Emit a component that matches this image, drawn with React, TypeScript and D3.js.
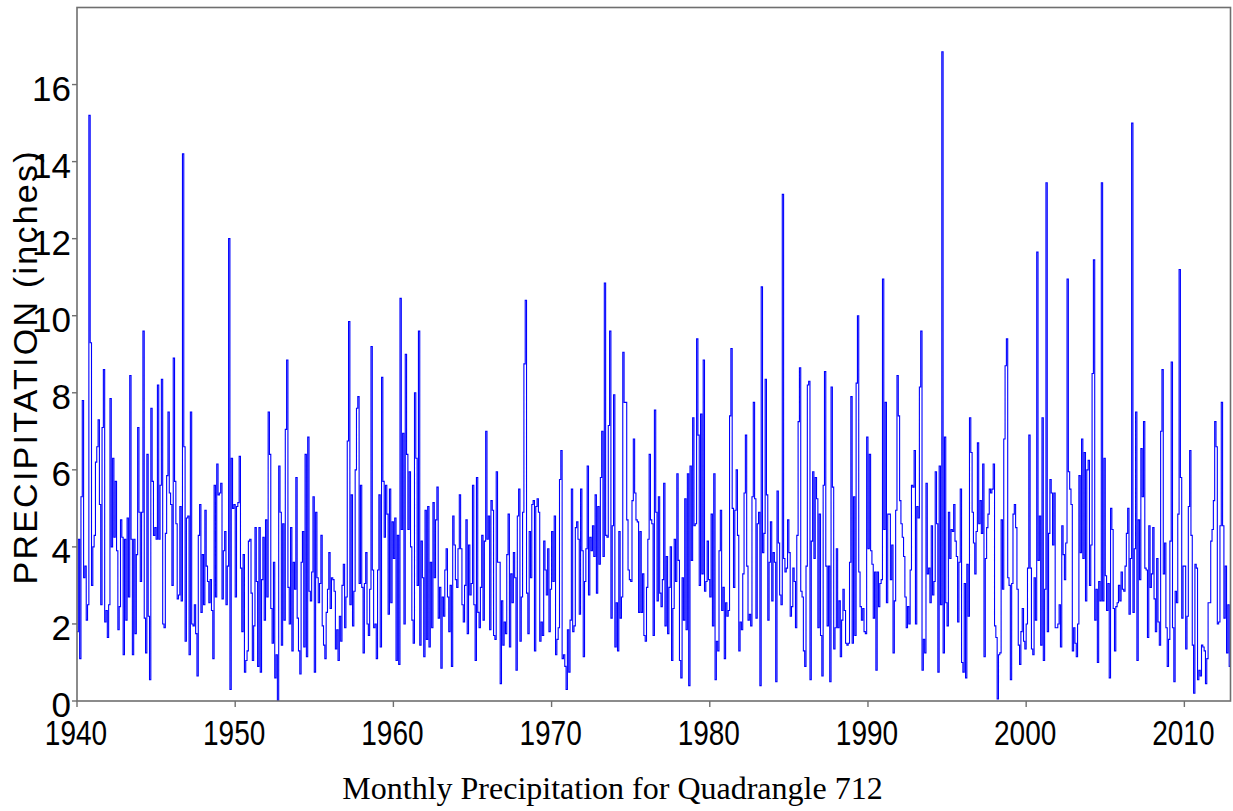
import React from "react";
import * as d3 from "d3";

// Monthly precipitation (inches), one row per year, Jan..Dec
const precip1940s: number[][] = [
  [1.8, 4.2, 1.1, 5.3, 7.8, 3.2, 3.5, 2.1, 2.5, 15.2, 9.3, 3.0],
  [4.0, 4.3, 6.2, 6.6, 7.3, 5.1, 2.5, 7.1, 8.6, 2.05, 2.35, 1.65],
  [2.5, 7.85, 4.0, 6.3, 4.25, 5.7, 3.9, 1.85, 2.45, 4.7, 4.25, 1.2],
  [4.2, 2.1, 4.75, 2.7, 8.45, 4.2, 1.2, 4.2, 1.75, 3.8, 7.1, 4.9],
  [3.1, 4.9, 9.6, 2.15, 1.25, 6.4, 2.2, 0.55, 7.6, 5.7, 4.3, 4.5],
  [4.2, 8.2, 4.2, 5.6, 8.35, 2.0, 1.9, 4.35, 5.85, 7.5, 5.4, 5.1],
  [3.0, 8.9, 5.7, 4.6, 2.65, 2.75, 5.05, 2.6, 14.2, 6.6, 1.55, 4.75],
  [4.8, 1.2, 7.5, 2.0, 1.95, 2.5, 1.75, 0.65, 4.3, 5.1, 2.3, 3.8],
  [2.5, 4.95, 3.5, 3.1, 2.55, 3.15, 2.35, 1.1, 5.6, 2.7, 6.15, 5.35],
  [5.4, 5.65, 2.65, 3.9, 4.4, 2.5, 3.5, 12.0, 0.3, 6.3, 5.0, 5.1],
];
const precip1950s: number[][] = [
  [2.7, 5.05, 5.15, 6.35, 3.45, 1.8, 3.8, 0.75, 1.05, 1.3, 4.15, 4.2],
  [2.8, 1.05, 1.95, 4.5, 3.1, 0.9, 4.5, 0.75, 3.15, 4.25, 2.1, 4.7],
  [2.7, 7.5, 6.4, 2.4, 1.5, 3.6, 0.6, 1.2, 0.0, 6.1, 4.9, 1.45],
  [4.6, 2.1, 7.05, 8.85, 2.95, 2.0, 4.5, 1.3, 3.6, 2.9, 5.8, 2.15],
  [1.3, 0.7, 3.6, 4.4, 1.4, 6.4, 1.15, 6.85, 2.85, 2.6, 3.35, 5.3],
  [0.75, 4.9, 3.2, 2.55, 3.05, 4.3, 1.95, 1.45, 1.1, 2.3, 2.9, 3.85],
  [2.4, 3.2, 3.15, 2.85, 1.35, 1.85, 1.05, 2.2, 1.55, 3.0, 3.55, 1.9],
  [2.7, 6.75, 9.85, 2.5, 5.35, 1.95, 2.85, 6.0, 7.6, 7.9, 3.05, 5.6],
  [2.95, 1.25, 3.05, 3.85, 2.0, 1.7, 2.9, 9.2, 3.4, 1.9, 2.0, 1.1],
  [3.4, 5.35, 1.4, 8.4, 5.7, 4.25, 5.6, 4.85, 2.25, 5.5, 2.55, 4.65],
];
const precip1960s: number[][] = [
  [3.7, 4.75, 1.05, 4.3, 0.95, 10.45, 4.45, 6.95, 2.0, 9.0, 6.4, 4.45],
  [5.95, 4.0, 2.1, 1.5, 8.0, 6.3, 3.0, 9.6, 1.45, 4.15, 3.2, 1.15],
  [4.95, 1.6, 5.05, 1.4, 3.6, 1.9, 5.15, 3.2, 4.7, 5.55, 2.15, 2.95],
  [0.85, 2.7, 2.2, 3.4, 3.95, 2.7, 1.8, 3.0, 0.9, 4.8, 4.05, 3.15],
  [2.95, 3.95, 5.35, 3.95, 2.5, 2.05, 3.0, 4.7, 1.75, 4.05, 2.75, 3.05],
  [5.6, 2.5, 1.05, 5.8, 2.3, 1.9, 2.95, 4.3, 2.1, 4.15, 7.0, 4.2],
  [4.8, 1.85, 5.2, 4.95, 1.7, 1.6, 5.95, 3.6, 3.6, 0.45, 2.6, 1.45],
  [2.05, 1.75, 3.8, 4.85, 1.4, 3.3, 2.55, 3.85, 3.2, 0.8, 4.8, 5.5],
  [1.55, 2.7, 4.9, 8.75, 10.4, 2.8, 1.75, 4.4, 3.2, 5.1, 5.2, 1.3],
  [5.05, 5.25, 4.9, 1.55, 2.05, 1.7, 4.15, 3.4, 2.75, 3.95, 1.8, 2.9],
];
const precip1970s: number[][] = [
  [4.4, 3.1, 4.8, 1.2, 1.6, 1.9, 5.75, 6.5, 1.1, 1.2, 0.9, 0.3],
  [1.85, 0.75, 2.1, 5.5, 1.8, 1.95, 4.5, 4.65, 4.2, 2.25, 5.5, 3.9],
  [1.15, 3.1, 3.95, 6.1, 2.75, 4.25, 3.9, 4.55, 3.75, 5.35, 2.8, 5.05],
  [3.55, 5.8, 7.0, 3.75, 10.85, 4.3, 4.25, 7.15, 9.6, 2.15, 4.55, 7.95],
  [1.4, 2.55, 1.3, 4.4, 2.15, 2.7, 9.05, 7.75, 7.75, 4.7, 3.4, 3.15],
  [3.1, 5.2, 6.8, 5.4, 4.7, 4.65, 2.3, 4.4, 2.3, 3.3, 1.7, 1.55],
  [2.95, 4.2, 6.4, 4.7, 4.6, 1.7, 7.55, 4.9, 2.6, 5.3, 2.8, 2.45],
  [3.15, 5.65, 1.95, 3.75, 1.75, 2.95, 4.0, 1.05, 2.4, 4.2, 3.1, 5.9],
  [3.65, 1.05, 0.6, 3.2, 2.1, 5.25, 1.85, 5.9, 0.4, 6.1, 3.65, 7.35],
  [4.55, 4.6, 9.4, 6.9, 3.0, 7.45, 3.3, 8.85, 2.85, 3.1, 4.15, 3.15],
];
const precip1980s: number[][] = [
  [2.7, 4.85, 1.95, 5.9, 0.55, 1.55, 1.3, 3.9, 4.95, 2.35, 2.95, 1.1],
  [2.55, 2.2, 2.35, 7.4, 9.15, 5.0, 2.95, 4.95, 6.0, 4.3, 1.3, 2.05],
  [1.85, 3.3, 5.4, 6.9, 3.5, 2.1, 2.25, 1.95, 5.3, 7.75, 5.25, 2.15],
  [4.6, 4.9, 0.4, 10.75, 3.85, 4.35, 8.35, 5.35, 2.1, 3.6, 4.65, 2.6],
  [3.85, 3.6, 0.5, 5.45, 4.1, 2.75, 2.5, 13.15, 3.7, 3.35, 3.45, 4.7],
  [3.85, 2.2, 2.45, 3.45, 3.1, 1.9, 4.3, 7.25, 8.65, 2.85, 2.7, 1.3],
  [0.9, 3.5, 8.2, 8.3, 0.55, 4.15, 5.95, 3.7, 5.8, 5.25, 1.9, 4.85],
  [1.7, 0.65, 5.6, 8.55, 3.5, 1.95, 3.5, 0.5, 8.15, 5.55, 1.35, 1.9],
  [3.95, 1.9, 2.6, 1.15, 2.1, 2.9, 2.35, 1.5, 1.45, 1.5, 3.6, 7.9],
  [1.5, 5.3, 1.7, 8.25, 10.0, 3.35, 2.45, 2.1, 2.4, 1.8, 1.75, 6.85],
];
const precip1990s: number[][] = [
  [3.95, 6.4, 3.9, 3.55, 2.15, 3.35, 0.8, 3.35, 2.45, 3.05, 3.15, 10.95],
  [4.45, 7.75, 2.55, 4.85, 4.85, 3.15, 4.05, 1.25, 2.6, 4.95, 8.45, 7.4],
  [5.2, 4.6, 4.25, 3.75, 2.7, 1.9, 2.45, 2.0, 3.4, 5.6, 5.55, 6.5],
  [2.0, 5.05, 4.75, 8.15, 9.6, 0.8, 1.6, 1.25, 5.65, 3.3, 3.45, 2.55],
  [4.55, 2.75, 3.1, 5.95, 4.6, 0.75, 6.1, 2.5, 16.85, 1.25, 6.85, 2.55],
  [1.95, 4.9, 3.7, 4.45, 4.4, 5.1, 4.15, 3.75, 2.05, 3.6, 5.5, 1.0],
  [0.75, 3.05, 0.6, 3.55, 2.2, 7.35, 6.45, 4.9, 4.1, 3.3, 4.4, 6.7],
  [4.6, 5.2, 4.35, 6.15, 1.15, 3.7, 4.5, 4.85, 5.5, 5.4, 5.5, 6.15],
  [1.95, 1.65, 0.05, 1.2, 1.25, 4.7, 2.9, 6.8, 8.7, 9.4, 3.2, 3.0],
  [0.55, 3.05, 4.85, 5.1, 4.5, 2.9, 1.45, 0.95, 1.8, 2.4, 1.55, 1.35],
];
const precip2000s: number[][] = [
  [2.0, 3.45, 6.9, 3.45, 1.35, 1.2, 3.2, 2.1, 11.65, 3.65, 4.8, 1.45],
  [7.35, 1.05, 2.9, 13.45, 1.8, 4.35, 5.75, 5.4, 4.05, 5.4, 1.9, 1.9],
  [2.0, 2.5, 1.4, 4.55, 3.8, 3.15, 4.1, 10.95, 5.95, 5.5, 5.1, 1.3],
  [1.9, 1.5, 1.15, 2.0, 5.85, 3.85, 6.8, 3.7, 6.45, 2.6, 6.0, 6.25],
  [3.0, 4.05, 8.5, 11.45, 2.1, 2.9, 1.0, 3.1, 2.6, 13.45, 2.6, 6.3],
  [3.25, 2.35, 3.05, 0.6, 5.0, 4.45, 2.4, 1.3, 2.45, 2.55, 3.0, 2.6],
  [3.35, 2.9, 2.85, 3.5, 4.35, 5.0, 2.25, 3.7, 15.0, 2.3, 3.95, 7.5],
  [1.05, 4.7, 3.15, 6.55, 5.3, 7.25, 3.45, 3.4, 1.65, 4.55, 2.95, 3.3],
  [4.5, 2.65, 1.8, 3.7, 2.05, 1.45, 7.0, 8.6, 3.3, 4.1, 1.9, 0.9],
  [1.6, 4.15, 8.8, 1.9, 0.5, 2.85, 2.55, 4.85, 11.2, 5.8, 2.15, 3.5],
];
const precip2010s: number[][] = [
  [3.5, 1.35, 2.2, 5.05, 6.5, 4.3, 1.45, 0.2, 3.55, 3.45, 0.55, 0.8],
  [0.65, 1.45, 1.4, 1.3, 0.45, 1.1, 2.55, 2.55, 4.15, 4.45, 5.2, 7.25],
  [6.6, 2.0, 2.05, 4.55, 7.75, 4.55, 2.15, 3.5, 1.25, 2.5, 0.9, 2.6],
];

const startYear = 1940;
const xTicks = [1940, 1950, 1960, 1970, 1980, 1990, 2000, 2010];
const yTicks = [0, 2, 4, 6, 8, 10, 12, 14, 16];
const yMax = 18;
const yAxisTitle = "PRECIPITATION (inches)";
const chartTitle = "Monthly Precipitation for Quadrangle 712";

export default function App() {
  const W = 1233;
  const H = 811;
  const left = 77;
  const right = 1230.5;
  const top = 7.5;
  const bottom = 701;

  const values: number[] = [
    ...precip1940s,
    ...precip1950s,
    ...precip1960s,
    ...precip1970s,
    ...precip1980s,
    ...precip1990s,
    ...precip2000s,
    ...precip2010s,
  ].flat();

  const x = d3
    .scaleLinear()
    .domain([startYear, startYear + (values.length - 1) / 12])
    .range([left, right]);
  const y = d3.scaleLinear().domain([0, yMax]).range([bottom, top]);

  const line = d3
    .line<number>()
    .x((_, i) => x(startYear + i / 12))
    .y((d) => y(d))
    .curve(d3.curveStepAfter);

  const frame = "#6f6f6f";
  const sans = "'Liberation Sans', Arial, sans-serif";
  const serif = "'Liberation Serif', 'Times New Roman', serif";

  return (
    <svg
      width={W}
      height={H}
      style={{ position: "absolute", left: 0, top: 0, background: "#fff" }}
    >
      <defs>
        <clipPath id="plotClip">
          <rect x={left} y={top} width={right - left} height={bottom - top} />
        </clipPath>
      </defs>
      <rect x={0} y={0} width={W} height={H} fill="#fff" />
      <path
        d={line(values) || ""}
        fill="none"
        stroke="#0000ff"
        strokeWidth={1.1}
        clipPath="url(#plotClip)"
      />
      {/* frame */}
      <rect
        x={left}
        y={top}
        width={right - left}
        height={bottom - top}
        fill="none"
        stroke={frame}
        strokeWidth={1.6}
      />
      {/* y ticks */}
      {yTicks.map((t) => (
        <g key={"y" + t}>
          <line x1={left - 5} x2={left} y1={y(t)} y2={y(t)} stroke={frame} strokeWidth={1.4} />
          <text
            x={71}
            y={y(t) + 16}
            textAnchor="end"
            fontFamily={sans}
            fontSize={35}
            fill="#000"
          >
            {t}
          </text>
        </g>
      ))}
      {/* x ticks */}
      {xTicks.map((t) => (
        <g key={"x" + t}>
          <line x1={x(t)} x2={x(t)} y1={bottom} y2={bottom + 6} stroke={frame} strokeWidth={1.4} />
          <text
            transform={`translate(${x(t) - 1},745) scale(0.8,1)`}
            textAnchor="middle"
            fontFamily={sans}
            fontSize={35}
            fill="#000"
          >
            {t}
          </text>
        </g>
      ))}
      {/* y axis title */}
      <text
        transform={`translate(37,368) rotate(-90)`}
        textAnchor="middle"
        fontFamily={sans}
        fontSize={34}
        textLength={433}
        lengthAdjust="spacing"
        fill="#000"
      >
        {yAxisTitle}
      </text>
      {/* chart title */}
      <text
        x={612.5}
        y={799}
        textAnchor="middle"
        fontFamily={serif}
        fontSize={32}
        fill="#000"
      >
        {chartTitle}
      </text>
    </svg>
  );
}
